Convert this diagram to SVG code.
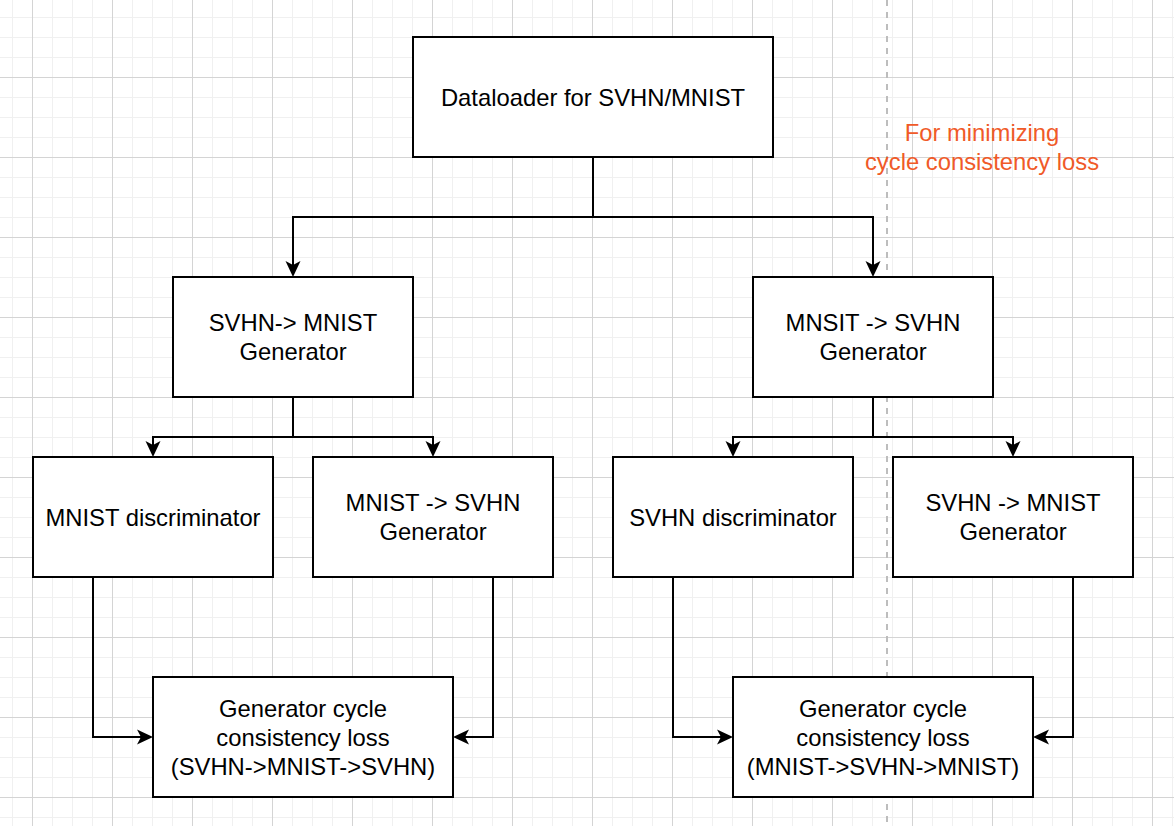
<svg xmlns="http://www.w3.org/2000/svg" width="1174" height="826" viewBox="0 0 1174 826">
  <defs>
    <pattern id="minor" x="12" y="17" width="20" height="20" patternUnits="userSpaceOnUse">
      <rect x="0" y="0" width="1" height="20" fill="#f0f0f0"/>
      <rect x="0" y="0" width="20" height="1" fill="#f0f0f0"/>
    </pattern>
    <pattern id="major" x="32" y="77" width="80" height="80" patternUnits="userSpaceOnUse">
      <rect x="0" y="0" width="1" height="80" fill="#d4d4d4"/>
      <rect x="0" y="0" width="80" height="1" fill="#d4d4d4"/>
    </pattern>
    <marker id="arrow" markerUnits="userSpaceOnUse" markerWidth="16" markerHeight="16" viewBox="0 0 16 16" refX="12" refY="8" orient="auto">
      <path d="M0,0.5 L16,8 L0,15.5 L4,8 Z" fill="#000"/>
    </marker>
    <style>
      .box { fill: #fff; stroke: #000; stroke-width: 2; }
      .lbl { font-family: "Liberation Sans", Helvetica, Arial, sans-serif; font-size: 23.8px; fill: #000; text-anchor: middle; }
      .note { font-family: "Liberation Sans", Helvetica, Arial, sans-serif; font-size: 23.8px; fill: #f05a28; text-anchor: middle; }
      .edge { fill: none; stroke: #000; stroke-width: 2; marker-end: url(#arrow); }
    </style>
  </defs>

  <rect width="1174" height="826" fill="#fff"/>
  <rect width="1174" height="826" fill="url(#minor)"/>
  <rect width="1174" height="826" fill="url(#major)"/>

  <line id="divider" x1="887" y1="0" x2="887" y2="826" stroke="#bdbdbd" stroke-width="2" stroke-dasharray="6 6"/>

  <g id="connectors">
    <path class="edge" d="M593,157 V217 H293 V273"/>
    <path class="edge" d="M593,157 V217 H873 V273"/>
    <path class="edge" d="M293,397 V437 H153 V453"/>
    <path class="edge" d="M293,397 V437 H433 V453"/>
    <path class="edge" d="M873,397 V437 H733 V453"/>
    <path class="edge" d="M873,397 V437 H1013 V453"/>
    <path class="edge" d="M93,577 V737 H149"/>
    <path class="edge" d="M493,577 V737 H457"/>
    <path class="edge" d="M673,577 V737 H729"/>
    <path class="edge" d="M1073,577 V737 H1037"/>
  </g>

  <g id="dataloader">
    <rect class="box" x="413" y="37" width="360" height="120"/>
    <text class="lbl" x="593" y="105.5">Dataloader for SVHN/MNIST</text>
  </g>

  <g id="gen-svhn-mnist">
    <rect class="box" x="173" y="277" width="240" height="120"/>
    <text class="lbl" x="293" y="331">SVHN-&gt; MNIST</text>
    <text class="lbl" x="293" y="360">Generator</text>
  </g>

  <g id="gen-mnist-svhn">
    <rect class="box" x="753" y="277" width="240" height="120"/>
    <text class="lbl" x="873" y="331">MNSIT -&gt; SVHN</text>
    <text class="lbl" x="873" y="360">Generator</text>
  </g>

  <g id="mnist-disc">
    <rect class="box" x="33" y="457" width="240" height="120"/>
    <text class="lbl" x="153" y="525.5">MNIST discriminator</text>
  </g>

  <g id="gen-mnist-svhn-2">
    <rect class="box" x="313" y="457" width="240" height="120"/>
    <text class="lbl" x="433" y="511">MNIST -&gt; SVHN</text>
    <text class="lbl" x="433" y="540">Generator</text>
  </g>

  <g id="svhn-disc">
    <rect class="box" x="613" y="457" width="240" height="120"/>
    <text class="lbl" x="733" y="525.5">SVHN discriminator</text>
  </g>

  <g id="gen-svhn-mnist-2">
    <rect class="box" x="893" y="457" width="240" height="120"/>
    <text class="lbl" x="1013" y="511">SVHN -&gt; MNIST</text>
    <text class="lbl" x="1013" y="540">Generator</text>
  </g>

  <g id="loss-left">
    <rect class="box" x="153" y="677" width="300" height="120"/>
    <text class="lbl" x="303" y="717">Generator cycle</text>
    <text class="lbl" x="303" y="746">consistency loss</text>
    <text class="lbl" x="303" y="775">(SVHN-&gt;MNIST-&gt;SVHN)</text>
  </g>

  <g id="loss-right">
    <rect class="box" x="733" y="677" width="300" height="120"/>
    <text class="lbl" x="883" y="717">Generator cycle</text>
    <text class="lbl" x="883" y="746">consistency loss</text>
    <text class="lbl" x="883" y="775">(MNIST-&gt;SVHN-&gt;MNIST)</text>
  </g>

  <g id="note">
    <text class="note" x="982" y="141">For minimizing</text>
    <text class="note" x="982" y="170">cycle consistency loss</text>
  </g>
</svg>
